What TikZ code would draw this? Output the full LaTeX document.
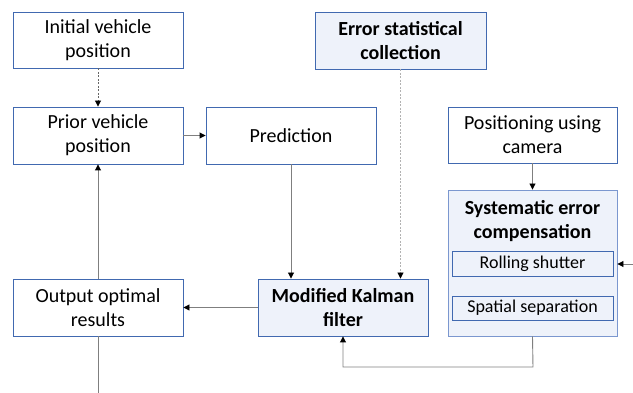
\documentclass[tikz,border=0pt]{standalone}
\usepackage{fontspec}
\setmainfont{Carlito}
\usetikzlibrary{arrows.meta}
\definecolor{bord}{HTML}{4169B0}
\definecolor{bordlt}{HTML}{7B97CF}
\definecolor{fillb}{HTML}{EEF2FA}
\definecolor{conn}{HTML}{7F7F7F}
\tikzset{
  box/.style={draw=bord, line width=0.9pt, fill=white, align=center, inner sep=0pt,
    font=\fontsize{20}{24}\selectfont},
  boldbox/.style={box, fill=fillb, font=\fontsize{20}{24}\selectfont\bfseries},
  smallbox/.style={draw=bord, line width=0.9pt, fill=fillb, align=center, inner sep=0pt,
    font=\fontsize{18}{21}\selectfont},
  conline/.style={draw=conn, line width=0.9pt},
  arr/.style={conline, -{Triangle[length=6pt,width=6pt,fill=black,color=black]}},
  darr/.style={arr, dash pattern=on 2pt off 1.5pt, draw=conn!80!black},
  larr/.style={arr, dash pattern=on 2pt off 1.5pt, draw=conn!60},
}
\begin{document}
\begin{tikzpicture}[x=1pt,y=-1pt]
\useasboundingbox (0,0) rectangle (633,393);
\node[box, minimum width=170pt, minimum height=56pt] (init) at (98,40) {Initial vehicle\\position};
\node[box, minimum width=170pt, minimum height=57pt] (prior) at (98,135.5) {Prior vehicle\\position};
\node[box, minimum width=170pt, minimum height=57pt] (pred) at (291,135.5) {Prediction};
\node[boldbox, minimum width=171pt, minimum height=57pt] (err) at (400.5,40.5) {Error statistical\\collection};
\node[box, minimum width=169pt, minimum height=56pt] (cam) at (532.5,135) {Positioning using\\camera};
\node[draw=bordlt, line width=0.9pt, fill=fillb, minimum width=169pt, minimum height=146pt, inner sep=0pt] (sys) at (532.5,263) {};
\node[font=\fontsize{20}{24}\selectfont\bfseries, align=center] (systxt) at (532.5,221) {Systematic error\\compensation};
\node[smallbox, minimum width=161pt, minimum height=25pt] (roll) at (532.5,263.5) {Rolling shutter};
\node[smallbox, minimum width=161pt, minimum height=24pt] (spat) at (532.5,308) {Spatial separation};
\node[boldbox, minimum width=170pt, minimum height=57pt] (kal) at (343,307.5) {Modified Kalman\\filter};
\node[box, minimum width=170pt, minimum height=57pt] (out) at (98,307.5) {Output optimal\\results};
\coordinate (rin) at (633,264);
\coordinate (bot) at (98,393);
\coordinate (c1) at (533,367);
\coordinate (c2) at (343,367);
\draw[darr] (init.south) -- (prior.north);
\draw[arr] (prior.east) -- (pred.west);
\draw[arr] (pred.south) -- (pred.south |- kal.north);
\draw[larr] (err.south) -- (err.south |- kal.north);
\draw[arr] (cam.south) -- (sys.north);
\draw[arr] (rin) -- (sys.east |- rin);
\draw[arr] (sys.south) -- (c1) -- (c2) -- (kal.south);
\draw[arr] (kal.west) -- (out.east);
\draw[arr] (out.north) -- (prior.south);
\draw[conline] (out.south) -- (bot);
\end{tikzpicture}
\end{document}
